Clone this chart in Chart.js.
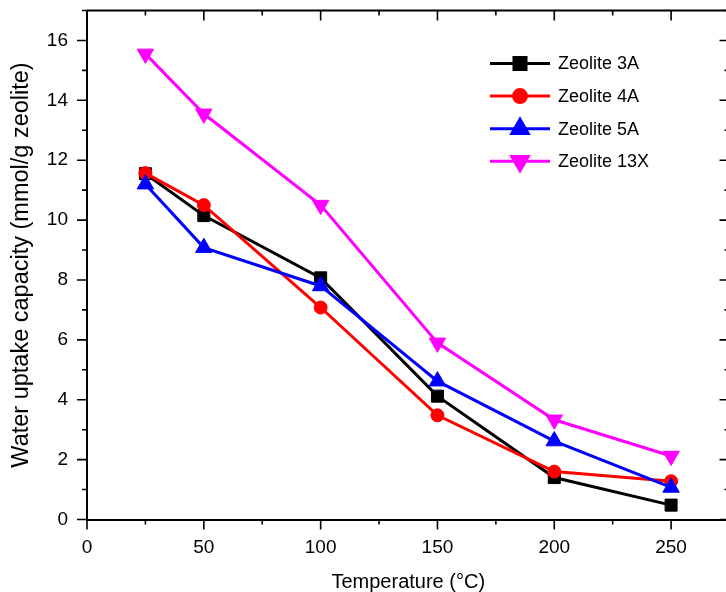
<!DOCTYPE html>
<html>
<head>
<meta charset="utf-8">
<script src="https://cdn.jsdelivr.net/npm/chart.js@4/dist/chart.umd.min.js"></script>
<style>
  html, body { margin: 0; padding: 0; overflow: hidden; background: #fff; }
  canvas { display: block; }
</style>
</head>
<body>
<canvas id="chart" width="740" height="592" style="width:740px;height:592px"></canvas>
<script>
// data
var temps = [25, 50, 100, 150, 200, 250];
var zeolite3A = [11.55, 10.15, 8.07, 4.12, 1.4, 0.48];
var zeolite4A = [11.57, 10.5, 7.08, 3.48, 1.6, 1.28];
var zeolite5A = [11.2, 9.08, 7.8, 4.62, 2.62, 1.07];
var zeolite13X = [15.55, 13.55, 10.5, 5.9, 3.33, 2.12];

var xTicks = [0, 50, 100, 150, 200, 250];
var yTicks = [0, 2, 4, 6, 8, 10, 12, 14, 16];

function pts(vals) {
  return temps.map(function (t, i) { return { x: t, y: vals[i] }; });
}

function series(label, vals, color, style, radius, rotation, order) {
  return {
    label: label,
    data: pts(vals),
    borderColor: color,
    backgroundColor: color,
    borderWidth: 3,
    pointStyle: style,
    pointRadius: radius,
    pointRotation: rotation,
    pointBackgroundColor: color,
    pointBorderColor: color,
    pointBorderWidth: 1,
    tension: 0,
    order: order
  };
}

// frame, ticks (major + minor) and legend
var framePlugin = {
  id: "frame",
  afterDraw(chart) {
    const ctx = chart.ctx;
    const { top, bottom, left, right } = chart.chartArea;
    const x = chart.scales.x, y = chart.scales.y;
    ctx.save();
    ctx.strokeStyle = "#000";
    ctx.lineWidth = 2;
    ctx.beginPath();
    ctx.moveTo(left, top); ctx.lineTo(right, top);
    ctx.moveTo(right, top); ctx.lineTo(right, bottom);
    ctx.stroke();

    ctx.lineWidth = 1.6;
    ctx.beginPath();
    for (let v = 0; v <= 275; v += 25) {
      const px = x.getPixelForValue(v);
      const len = v % 50 === 0 ? 10 : 5;
      ctx.moveTo(px, bottom); ctx.lineTo(px, bottom + len);
      ctx.moveTo(px, top); ctx.lineTo(px, top + len);
    }
    for (let v = 0; v <= 17; v += 1) {
      const py = y.getPixelForValue(v);
      const len = v % 2 === 0 ? 10 : 5;
      ctx.moveTo(left, py); ctx.lineTo(left - len, py);
      ctx.moveTo(right, py); ctx.lineTo(right - len, py);
    }
    ctx.stroke();

    // legend
    const x0 = 490, x1 = 550, rowY = 63.5, step = 32.6;
    ctx.font = "18px 'Liberation Sans', Arial, sans-serif";
    ctx.textBaseline = "middle";
    ctx.textAlign = "left";
    chart.data.datasets.forEach(function (ds, i) {
      const yy = rowY + i * step;
      ctx.strokeStyle = ds.borderColor;
      ctx.lineWidth = 3;
      ctx.beginPath();
      ctx.moveTo(x0, yy); ctx.lineTo(x1, yy);
      ctx.stroke();
      ctx.fillStyle = ds.backgroundColor;
      Chart.helpers.drawPoint(ctx, {
        pointStyle: ds.pointStyle,
        rotation: ds.pointRotation,
        radius: ds.pointRadius,
        borderWidth: 1
      }, (x0 + x1) / 2, yy);
      ctx.fillStyle = "#000";
      ctx.fillText(ds.label, 558, yy + 1);
    });
    ctx.restore();
  }
};

var tickFont = { family: "'Liberation Sans', Arial, sans-serif", size: 19 };

new Chart(document.getElementById("chart"), {
  type: "line",
  data: {
    datasets: [
      series("Zeolite 3A", zeolite3A, "#000000", "rect", 8.5, 0, 4),
      series("Zeolite 4A", zeolite4A, "#ff0000", "circle", 6.5, 0, 3),
      series("Zeolite 5A", zeolite5A, "#0000ff", "triangle", 9.5, 0, 2),
      series("Zeolite 13X", zeolite13X, "#ff00ff", "triangle", 9.5, 180, 1)
    ]
  },
  options: {
    responsive: false,
    animation: false,
    layout: { padding: { left: 0, top: 10, right: 8.4, bottom: 0 } },
    plugins: { legend: { display: false }, tooltip: { enabled: false } },
    scales: {
      x: {
        type: "linear",
        min: 0,
        max: 275,
        afterBuildTicks: function (s) { s.ticks = xTicks.map(function (v) { return { value: v }; }); },
        afterFit: function (s) { s.height = 72.5; s.paddingLeft = 0; s.paddingRight = 0; },
        grid: { display: false },
        border: { display: true, color: "#000", width: 2 },
        ticks: { color: "#000", font: tickFont, padding: 9, maxRotation: 0, autoSkip: false },
        title: { display: true, text: "Temperature (\u00B0C)", color: "#000",
                 font: { family: "'Liberation Sans', Arial, sans-serif", size: 20 }, padding: { top: 0, bottom: -2 } }
      },
      y: {
        min: 0,
        max: 17,
        afterBuildTicks: function (s) { s.ticks = yTicks.map(function (v) { return { value: v }; }); },
        afterFit: function (s) { s.width = 87; s.paddingTop = 0; s.paddingBottom = 0; },
        grid: { display: false },
        border: { display: true, color: "#000", width: 2 },
        ticks: { color: "#000", font: tickFont, padding: 11, autoSkip: false },
        title: { display: true, text: "Water uptake capacity (mmol/g zeolite)", color: "#000",
                 font: { family: "'Liberation Sans', Arial, sans-serif", size: 23.5 }, padding: { top: 7.5, bottom: 0 } }
      }
    }
  },
  plugins: [framePlugin]
});
</script>
</body>
</html>
